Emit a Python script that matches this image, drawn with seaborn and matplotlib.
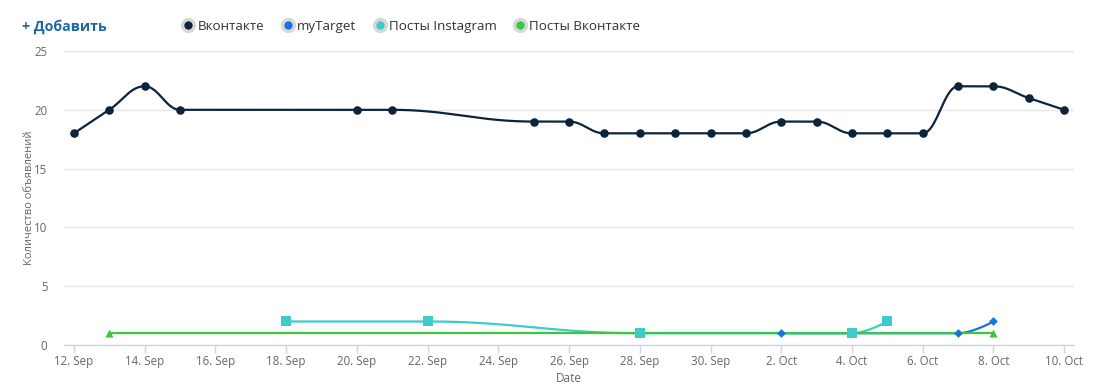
import numpy as np
import pandas as pd
import matplotlib
matplotlib.use("Agg")
import matplotlib.pyplot as plt
import matplotlib.dates as mdates
from matplotlib.lines import Line2D
import seaborn as sns

# data
vk_dates = ["2019-09-12", "2019-09-13", "2019-09-14", "2019-09-15", "2019-09-20", "2019-09-21",
            "2019-09-25", "2019-09-26", "2019-09-27", "2019-09-28", "2019-09-29", "2019-09-30",
            "2019-10-01", "2019-10-02", "2019-10-03", "2019-10-04", "2019-10-05", "2019-10-06",
            "2019-10-07", "2019-10-08", "2019-10-09", "2019-10-10"]
vk_values = [18, 20, 22, 20, 20, 20, 19, 19, 18, 18, 18, 18, 18, 19, 19, 18, 18, 18, 22, 22, 21, 20]

mt_dates = ["2019-10-02", "2019-10-07", "2019-10-08"]
mt_values = [1, 1, 2]

ig_dates = ["2019-09-18", "2019-09-22", "2019-09-28", "2019-10-04", "2019-10-05"]
ig_values = [2, 2, 1, 1, 2]

pv_dates = ["2019-09-13", "2019-10-08"]
pv_values = [1, 1]

series_names = ["Вконтакте", "myTarget", "Посты Instagram", "Посты Вконтакте"]
series_colors = ["#0d233a", "#1a73d9", "#3ecbca", "#3cc83c"]
series_markers = ["o", "D", "s", "^"]
marker_sizes = [38, 20, 42, 34]


def spline(xs, ys, smoothing=1.5, n=30):
    """Highcharts-like spline through the points, returns sampled curve"""
    xs = np.asarray(xs, float)
    ys = np.asarray(ys, float)
    m = len(xs)
    if m < 3:
        return xs, ys
    lcx, lcy = xs.copy(), ys.copy()
    rcx, rcy = xs.copy(), ys.copy()
    denom = smoothing + 1
    for i in range(1, m - 1):
        px, py = xs[i], ys[i]
        lx, ly = xs[i - 1], ys[i - 1]
        nx, ny = xs[i + 1], ys[i + 1]
        lcx_ = (smoothing * px + lx) / denom
        lcy_ = (smoothing * py + ly) / denom
        rcx_ = (smoothing * px + nx) / denom
        rcy_ = (smoothing * py + ny) / denom
        corr = 0
        if rcx_ != lcx_:
            corr = (rcy_ - lcy_) * (rcx_ - px) / (rcx_ - lcx_) + py - rcy_
        lcy_ += corr
        rcy_ += corr
        if lcy_ > ly and lcy_ > py:
            lcy_ = max(ly, py)
            rcy_ = 2 * py - lcy_
        elif lcy_ < ly and lcy_ < py:
            lcy_ = min(ly, py)
            rcy_ = 2 * py - lcy_
        if rcy_ > ny and rcy_ > py:
            rcy_ = max(ny, py)
            lcy_ = 2 * py - rcy_
        elif rcy_ < ny and rcy_ < py:
            rcy_ = min(ny, py)
            lcy_ = 2 * py - rcy_
        lcx[i], lcy[i], rcx[i], rcy[i] = lcx_, lcy_, rcx_, rcy_
    t = np.linspace(0, 1, n)[:, None]
    out_x, out_y = [], []
    for i in range(1, m):
        P = np.array([[xs[i - 1], ys[i - 1]], [rcx[i - 1], rcy[i - 1]],
                      [lcx[i], lcy[i]], [xs[i], ys[i]]])
        seg = ((1 - t) ** 3) * P[0] + 3 * ((1 - t) ** 2) * t * P[1] + 3 * (1 - t) * t ** 2 * P[2] + t ** 3 * P[3]
        out_x.extend(seg[:, 0])
        out_y.extend(seg[:, 1])
    return np.array(out_x), np.array(out_y)


sns.set_theme(style="white")
plt.rcParams["font.family"] = ["Open Sans", "DejaVu Sans"]

fig = plt.figure(figsize=(10.96, 3.87), dpi=100)
ax = fig.add_axes([0.0584, 0.1085, 0.9216, 0.7597])

all_series = [(vk_dates, vk_values), (mt_dates, mt_values), (ig_dates, ig_values), (pv_dates, pv_values)]
for k, (d, v) in enumerate(all_series):
    dates = pd.to_datetime(d)
    xnum = mdates.date2num(dates)
    cx, cy = spline(xnum, v)
    ax.plot(cx, cy, color=series_colors[k], lw=1.6, solid_capstyle="round", zorder=2 + k)
    df = pd.DataFrame({"date": dates, "value": v})
    sns.scatterplot(data=df, x="date", y="value", ax=ax, color=series_colors[k],
                    marker=series_markers[k], s=marker_sizes[k], linewidth=0, zorder=7 + k, legend=False)

x0 = mdates.date2num(pd.Timestamp("2019-09-12"))
x1 = mdates.date2num(pd.Timestamp("2019-10-10"))
ax.set_xlim(x0 - 0.28, x1 + 0.28)
ax.set_ylim(0, 25)
ax.set_yticks([0, 5, 10, 15, 20, 25])
ticks = pd.date_range("2019-09-12", "2019-10-10", freq="2D")
ax.set_xticks(mdates.date2num(ticks))
ax.set_xticklabels([f"{t.day}. {t.strftime('%b')}" for t in ticks])

ax.grid(axis="y", color="#e6e6e6", lw=1)
ax.grid(axis="x", visible=False)
for side in ["top", "right", "left"]:
    ax.spines[side].set_visible(False)
ax.spines["bottom"].set_color("#ccd6eb")
ax.spines["bottom"].set_linewidth(1)
ax.tick_params(axis="x", colors="#666666", labelsize=8.3, length=6, width=1, color="#ccd6eb", pad=1,
               bottom=True, direction="out")
ax.tick_params(axis="y", colors="#666666", labelsize=8.3, length=0, pad=12)
ax.set_xlabel("Date", color="#666666", fontsize=8.5, labelpad=3)
ax.set_ylabel("Количество объявлений", color="#666666", fontsize=8)
ax.yaxis.set_label_coords(-0.029, 0.5)

handles = [Line2D([0], [0], marker="o", color="none", markerfacecolor=c, markeredgecolor="#d8d8d8",
                  markeredgewidth=2.5, markersize=8.5) for c in series_colors]
fig.legend(handles, series_names, loc="center left", bbox_to_anchor=(0.156, 0.932), ncol=4,
           frameon=False, fontsize=9.6, handlelength=0.8, handletextpad=0.3, columnspacing=1.35,
           labelcolor="#333333")
fig.text(0.02, 0.932, "+ Добавить", color="#1c68a4", fontsize=10.2, fontweight="bold", va="center")

fig.savefig("out.png", dpi=100)
